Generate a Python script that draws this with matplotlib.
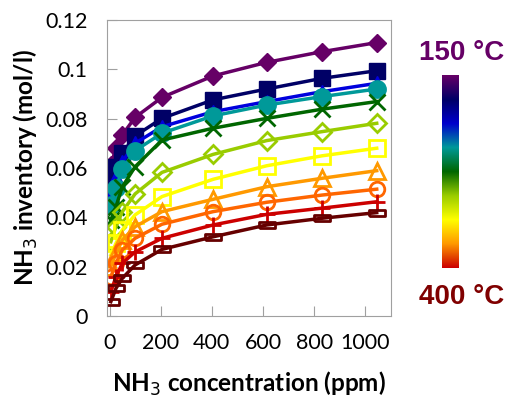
import numpy as np
import matplotlib
matplotlib.use("Agg")
import matplotlib.pyplot as plt
from matplotlib.colors import LinearSegmentedColormap

plt.rcParams["font.family"] = ["Lato", "DejaVu Sans"]

# NH3 concentration (ppm)
conc = [5, 25, 50, 100, 205, 405, 615, 830, 1045]

# NH3 inventory (mol/l), 150 degC (top) to 400 degC (bottom)
s150 = [0.0612, 0.0680, 0.0734, 0.0805, 0.0886, 0.0973, 0.1028, 0.1071, 0.1108]
s175 = [0.0551, 0.0605, 0.0660, 0.0730, 0.0801, 0.0876, 0.0920, 0.0963, 0.0994]
s200 = [0.0504, 0.0565, 0.0625, 0.0700, 0.0767, 0.0828, 0.0869, 0.0909, 0.0943]
s225 = [0.0450, 0.0518, 0.0595, 0.0670, 0.0741, 0.0811, 0.0855, 0.0889, 0.0920]
s250 = [0.0389, 0.0443, 0.0524, 0.0605, 0.0713, 0.0761, 0.0801, 0.0838, 0.0869]
s275 = [0.0301, 0.0362, 0.0423, 0.0495, 0.0582, 0.0655, 0.0711, 0.0747, 0.0781]
s300 = [0.0247, 0.0295, 0.0349, 0.0410, 0.0484, 0.0554, 0.0609, 0.0649, 0.0680]
s325 = [0.0200, 0.0254, 0.0308, 0.0362, 0.0423, 0.0473, 0.0524, 0.0558, 0.0589]
s350 = [0.0159, 0.0214, 0.0268, 0.0315, 0.0372, 0.0423, 0.0461, 0.0490, 0.0514]
s375 = [0.0098, 0.0159, 0.0214, 0.0260, 0.0315, 0.0369, 0.0412, 0.0437, 0.0463]
s400 = [0.0058, 0.0112, 0.0153, 0.0207, 0.0270, 0.0321, 0.0369, 0.0396, 0.0419]

series = [s150, s175, s200, s225, s250, s275, s300, s325, s350, s375, s400]
colors = ["#660066", "#000066", "#0000dd", "#009999", "#006600", "#99cc00",
          "#ffff00", "#ff9900", "#ff6600", "#cc0000", "#660000"]
dash = [(-1, -0.35), (1, -0.35), (1, 0.35), (-1, 0.35), (-1, -0.35)]
markers = ["D", "s", "^", "o", "x", "D", "s", "^", "o", "+", dash]
filled = [True, True, True, True, True, False, False, False, False, True, False]
msizes = [9.5, 11.5, 10, 12.5, 12, 9.5, 11.5, 11, 10.5, 12, 11]

fig = plt.figure(figsize=(5.15, 3.98), dpi=100)
ax = fig.add_axes([0.2078, 0.206, 0.551, 0.744])

for y, c, m, f, ms in zip(series, colors, markers, filled, msizes):
    ax.plot(conc, y, color=c, lw=2.5, marker=m, markersize=ms,
            markerfacecolor=c if f else "none", markeredgecolor=c,
            markeredgewidth=2 if not f or m in ("x", "+") else 1)

ax.set_xlim(-10, 1100)
ax.set_ylim(0, 0.12)
ax.set_xticks([0, 200, 400, 600, 800, 1000])
ax.set_yticks([0, 0.02, 0.04, 0.06, 0.08, 0.1, 0.12])
ax.set_yticklabels(["0", "0.02", "0.04", "0.06", "0.08", "0.1", "0.12"])
ax.tick_params(direction="in", length=7, color="#a0a0a0", labelsize=15.5, pad=14)
ax.tick_params(axis="x", pad=12)
for sp in ax.spines.values():
    sp.set_color("#a0a0a0")

ax.set_xlabel("NH$_3$ concentration (ppm)", fontsize=17.5, fontweight="bold", labelpad=12)
ax.set_ylabel("NH$_3$ inventory (mol/l)", fontsize=17.5, fontweight="bold", labelpad=4)

# colour bar for temperature
cmap = LinearSegmentedColormap.from_list(
    "temp", ["#660066", "#000066", "#0000cc", "#009999", "#006600",
             "#99cc00", "#ffff00", "#ff9900", "#cc0000"])
cax = fig.add_axes([442 / 515, (398 - 268) / 398, 17 / 515, 193 / 398])
cax.imshow(np.linspace(0, 1, 256).reshape(-1, 1), aspect="auto", cmap=cmap)
cax.axis("off")

fig.text(462 / 515, 1 - 53 / 398, "150 °C", color="#660066", fontsize=20,
         fontweight="bold", family="Liberation Sans", ha="center", va="center")
fig.text(462 / 515, 1 - 297 / 398, "400 °C", color="#800000", fontsize=20,
         fontweight="bold", family="Liberation Sans", ha="center", va="center")

fig.savefig("out.png", dpi=100)
